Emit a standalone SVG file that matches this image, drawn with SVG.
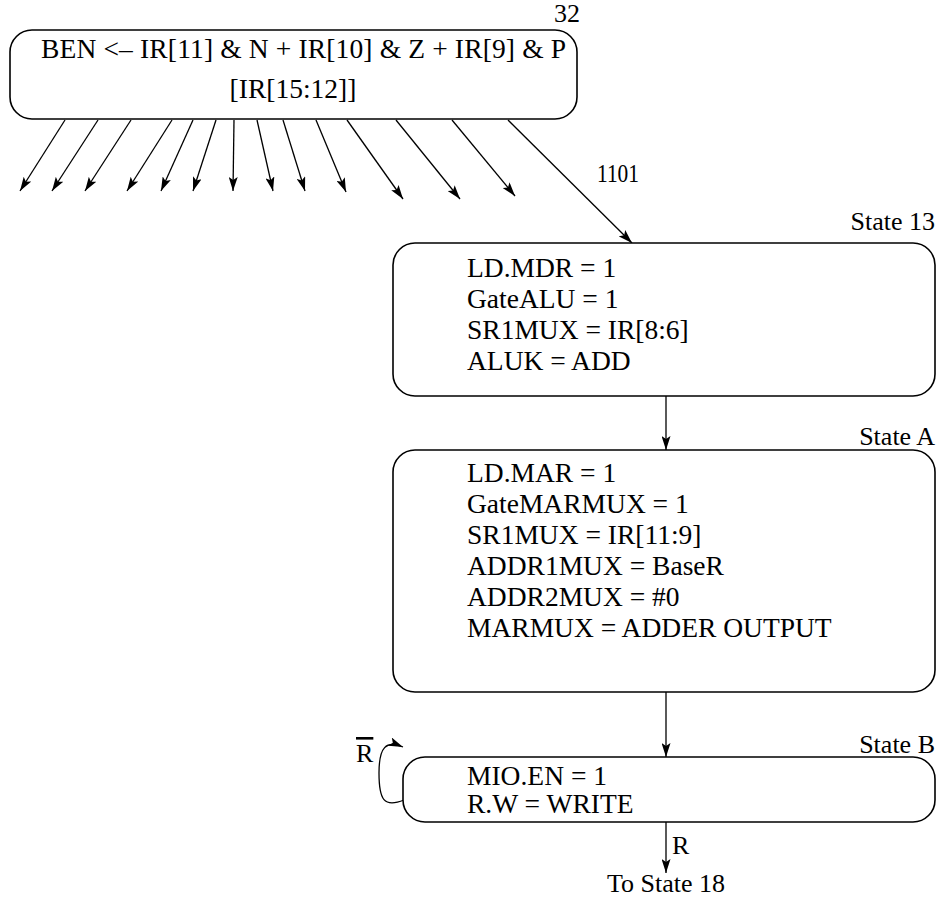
<svg xmlns="http://www.w3.org/2000/svg" width="940" height="897" viewBox="0 0 940 897">
<style>
  .box { fill: #ffffff; stroke: #000000; stroke-width: 1.6; }
  .t { font-family: "Liberation Serif", "Times New Roman", serif; font-size: 27.5px; fill: #000000; }
  .lbl { font-size: 26px; }
  .edge { fill: none; stroke: #000000; stroke-width: 1.3; marker-end: url(#ah); }
</style>
<defs>
  <marker id="ah" markerUnits="userSpaceOnUse" markerWidth="15" markerHeight="9" refX="14" refY="4.5" orient="auto">
    <path d="M0,0 L14,4.5 L0,9 L3,4.5 z" fill="#000000"/>
  </marker>
</defs>
<rect width="940" height="897" fill="#ffffff"/>

<g id="connectors">
  <line class="edge" x1="65" y1="120" x2="20" y2="191"/>
  <line class="edge" x1="98" y1="120" x2="52" y2="191"/>
  <line class="edge" x1="131" y1="120" x2="85" y2="191"/>
  <line class="edge" x1="172" y1="120" x2="127" y2="191"/>
  <line class="edge" x1="193" y1="120" x2="161" y2="191"/>
  <line class="edge" x1="216" y1="120" x2="193" y2="191"/>
  <line class="edge" x1="234" y1="120" x2="233" y2="191"/>
  <line class="edge" x1="257" y1="120" x2="273" y2="191"/>
  <line class="edge" x1="283" y1="120" x2="305" y2="191"/>
  <line class="edge" x1="316" y1="120" x2="346" y2="192"/>
  <line class="edge" x1="347" y1="120" x2="403" y2="199"/>
  <line class="edge" x1="396" y1="120" x2="460" y2="199"/>
  <line class="edge" x1="452" y1="120" x2="515" y2="196"/>
  <line class="edge" x1="508" y1="120" x2="632" y2="243"/>
  <line class="edge" x1="666" y1="396" x2="666" y2="450"/>
  <line class="edge" x1="666" y1="692" x2="666" y2="757"/>
  <path class="edge" d="M404,800 C384,808 379,800 379,773 C379,747 386,740 403,747"/>
  <line class="edge" x1="666" y1="822" x2="666" y2="873"/>
  <text class="t lbl" x="597" y="182" textLength="42" lengthAdjust="spacingAndGlyphs">1101</text>
  <text class="t lbl" x="356" y="762" text-decoration="overline">R</text>
  <text class="t lbl" x="672" y="854">R</text>
</g>

<g id="state32">
  <rect class="box" x="10" y="30" width="567" height="89" rx="22" ry="22"/>
  <text class="t" x="41" y="58" textLength="525" lengthAdjust="spacing">BEN &lt;&#8211; IR[11] &amp; N + IR[10] &amp; Z + IR[9] &amp; P</text>
  <text class="t" x="293" y="98" text-anchor="middle">[IR[15:12]]</text>
  <text class="t lbl" x="580" y="22" text-anchor="end">32</text>
</g>

<g id="state13">
  <rect class="box" x="393" y="243" width="542" height="153" rx="22" ry="22"/>
  <text class="t lbl" x="935" y="230" text-anchor="end">State 13</text>
  <text class="t" x="467" y="277">LD.MDR = 1</text>
  <text class="t" x="467" y="308">GateALU = 1</text>
  <text class="t" x="467" y="339">SR1MUX = IR[8:6]</text>
  <text class="t" x="467" y="370">ALUK = ADD</text>
</g>

<g id="stateA">
  <rect class="box" x="393" y="450" width="542" height="242" rx="22" ry="22"/>
  <text class="t lbl" x="935" y="445" text-anchor="end">State A</text>
  <text class="t" x="467" y="482">LD.MAR = 1</text>
  <text class="t" x="467" y="513">GateMARMUX = 1</text>
  <text class="t" x="467" y="544">SR1MUX = IR[11:9]</text>
  <text class="t" x="467" y="575">ADDR1MUX = BaseR</text>
  <text class="t" x="467" y="606">ADDR2MUX = #0</text>
  <text class="t" x="467" y="637">MARMUX = ADDER OUTPUT</text>
</g>

<g id="stateB">
  <rect class="box" x="403" y="757" width="532" height="65" rx="22" ry="22"/>
  <text class="t lbl" x="935" y="753" text-anchor="end">State B</text>
  <text class="t" x="467" y="785">MIO.EN = 1</text>
  <text class="t" x="467" y="813">R.W = WRITE</text>
</g>

<g id="to18">
  <text class="t lbl" x="666" y="892" text-anchor="middle">To State 18</text>
</g>
</svg>
